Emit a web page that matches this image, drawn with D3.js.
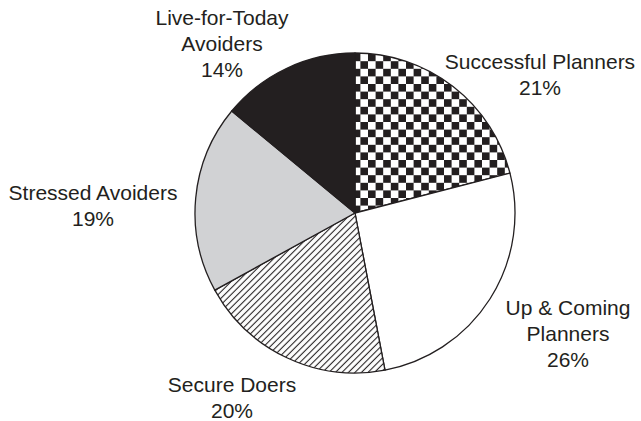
<!DOCTYPE html>
<html>
<head>
<meta charset="utf-8">
<script src="https://cdn.jsdelivr.net/npm/d3@7"></script>
<style>
  body { margin: 0; background: #fff; }
  text { font-family: "Liberation Sans", Arial, sans-serif; font-size: 21px; fill: #231f20; }
</style>
</head>
<body>
<div id="chart"></div>
<script>
const svgWidth = 641;
const svgHeight = 421;

// slices clockwise from 12 o'clock
const segments = ["Successful Planners", "Up & Coming Planners", "Secure Doers", "Stressed Avoiders", "Live-for-Today Avoiders"];
const shares = [21, 26, 20, 19, 14];
const labelLines = [
  ["Successful Planners", "21%"],
  ["Up & Coming", "Planners", "26%"],
  ["Secure Doers", "20%"],
  ["Stressed Avoiders", "19%"],
  ["Live-for-Today", "Avoiders", "14%"]
];

const cx = 355, cy = 213, radius = 160;
const ink = "#231f20";

// label anchor (centre x, first baseline) per slice
const labelPos = [
  [540, 69], [568, 315], [232, 392], [93, 200], [222, 25]
];

const svg = d3.select("#chart")
  .append("svg")
  .attr("width", svgWidth)
  .attr("height", svgHeight);

const defs = svg.append("defs");

const checker = defs.append("pattern")
  .attr("id", "checker")
  .attr("patternUnits", "userSpaceOnUse")
  .attr("x", cx)
  .attr("y", cy)
  .attr("width", 15.2)
  .attr("height", 15.2);
checker.append("rect").attr("width", 15.2).attr("height", 15.2).attr("fill", "#fff");
checker.append("rect").attr("width", 7.6).attr("height", 7.6).attr("fill", ink);
checker.append("rect").attr("x", 7.6).attr("y", 7.6).attr("width", 7.6).attr("height", 7.6).attr("fill", ink);

const hatch = defs.append("pattern")
  .attr("id", "hatch")
  .attr("patternUnits", "userSpaceOnUse")
  .attr("width", 10)
  .attr("height", 4.6)
  .attr("patternTransform", "rotate(-45)");
hatch.append("rect").attr("width", 10).attr("height", 4.6).attr("fill", "#fff");
hatch.append("line")
  .attr("x1", 0).attr("x2", 10)
  .attr("y1", 2.3).attr("y2", 2.3)
  .attr("stroke", ink)
  .attr("stroke-width", 1.1);

const fills = ["url(#checker)", "#fff", "url(#hatch)", "#d1d2d4", ink];

const pie = d3.pie().sort(null).value(d => d);
const arc = d3.arc().innerRadius(0).outerRadius(radius);

const chartGroup = svg.append("g")
  .attr("transform", `translate(${cx}, ${cy})`);

chartGroup.selectAll("path")
  .data(pie(shares))
  .enter()
  .append("path")
  .attr("d", arc)
  .attr("fill", (d, i) => fills[i])
  .attr("stroke", ink)
  .attr("stroke-width", 1.3)
  .attr("stroke-linejoin", "round");

const labels = svg.append("g");
labelLines.forEach(function(lines, i) {
  const t = labels.append("text")
    .attr("text-anchor", "middle")
    .attr("x", labelPos[i][0])
    .attr("y", labelPos[i][1]);
  lines.forEach(function(line, j) {
    t.append("tspan")
      .attr("x", labelPos[i][0])
      .attr("dy", j === 0 ? 0 : 26)
      .text(line);
  });
});
</script>
</body>
</html>
